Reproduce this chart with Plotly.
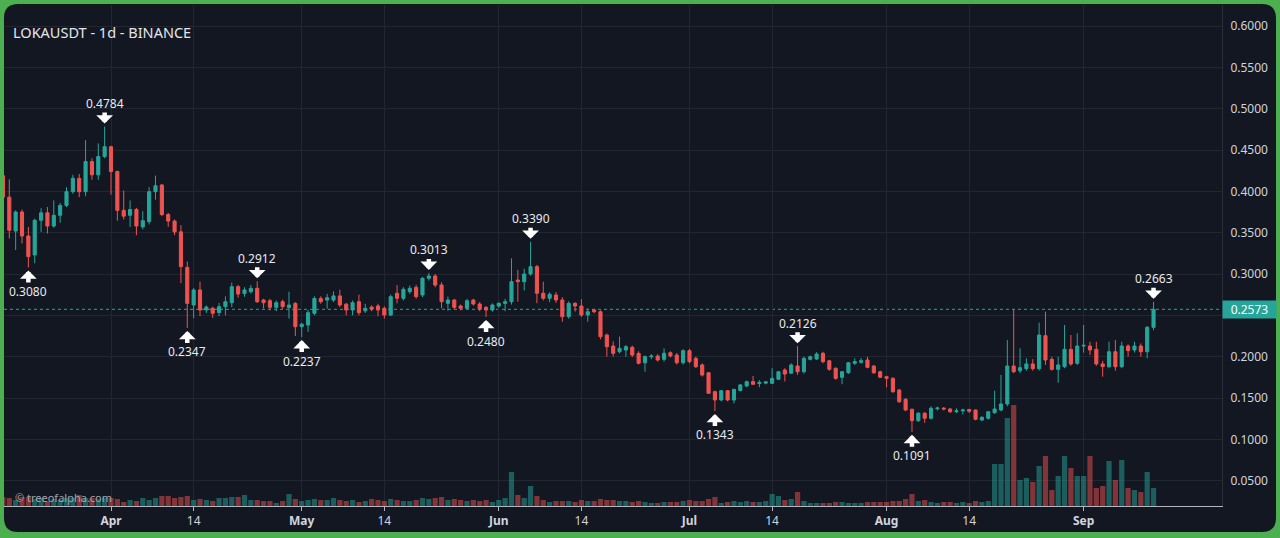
import pandas as pd
import plotly.graph_objects as go

# ---------------- data ----------------
start_date = "2023-03-15"

opens = [0.419,0.393,0.352,0.375,0.346,0.323,0.365,0.374,0.358,0.371,0.383,0.3996,0.4157,0.3996,0.436,0.420,0.442,0.454,0.424,0.377,
         0.371,0.378,0.357,0.3633,0.3996,0.4077,0.372,0.364,0.351,0.308,0.2625,0.2807,0.2565,0.2585,0.2533,0.2605,0.2653,0.2847,0.2765,0.2785,
         0.2827,0.2685,0.2677,0.2597,0.2665,0.2595,0.2645,0.2363,0.2383,0.2525,0.2705,0.2685,0.2685,0.2735,0.2635,0.2565,0.2665,0.2555,0.2600,0.2613,
         0.2585,0.2504,0.2767,0.2706,0.2786,0.2838,0.2746,0.2948,0.2976,0.2867,0.2645,0.2685,0.2613,0.2585,0.2685,0.2637,0.2597,0.2565,0.2613,0.2645,
         0.2665,0.2927,0.2907,0.3000,0.3089,0.2767,0.2706,0.2746,0.2686,0.2484,0.2645,0.2613,0.2504,0.2565,0.2544,0.2262,0.2129,0.2060,0.2081,0.2113,
         0.2040,0.1927,0.2000,0.2008,0.1968,0.2048,0.2020,0.1927,0.2073,0.1980,0.1900,0.1806,0.1577,0.1476,0.1589,0.1476,0.1590,0.1646,0.1698,0.1675,
         0.1680,0.1678,0.1727,0.1839,0.1800,0.1887,0.1818,0.1968,0.1972,0.2041,0.1950,0.1860,0.1750,0.1806,0.1920,0.1932,0.1960,0.1887,0.1818,0.1758,
         0.1738,0.1597,0.1484,0.1364,0.1226,0.1316,0.1255,0.1370,0.1378,0.1367,0.1334,0.1345,0.1360,0.1355,0.1234,0.1255,0.1322,0.1355,0.1428,0.1887,
         0.1830,0.1855,0.1912,0.1855,0.2254,0.1968,0.1847,0.1879,0.2089,0.1920,0.2129,0.2129,0.2089,0.1912,0.1879,0.2060,0.1879,0.2129,0.2081,0.2129,
         0.2060,0.2355]

highs = [0.421,0.4146,0.377,0.378,0.357,0.367,0.3795,0.381,0.389,0.386,0.405,0.420,0.421,0.462,0.440,0.458,0.4784,0.455,0.425,0.401,
         0.389,0.380,0.376,0.405,0.419,0.409,0.374,0.366,0.359,0.315,0.283,0.2907,0.262,0.2605,0.265,0.273,0.2895,0.2867,0.284,0.2867,
         0.2912,0.270,0.270,0.268,0.269,0.2786,0.266,0.241,0.2565,0.273,0.273,0.276,0.279,0.281,0.265,0.268,0.275,0.264,0.262,0.264,
         0.261,0.275,0.2867,0.284,0.286,0.287,0.2965,0.3013,0.300,0.290,0.2727,0.270,0.263,0.270,0.270,0.266,0.261,0.2645,0.266,0.270,
         0.319,0.305,0.3065,0.3390,0.311,0.2907,0.278,0.278,0.272,0.267,0.266,0.2695,0.258,0.258,0.256,0.228,0.2185,0.2242,0.214,0.2135,
         0.2065,0.2015,0.203,0.203,0.210,0.2065,0.2045,0.209,0.2095,0.200,0.192,0.1815,0.159,0.1595,0.1595,0.161,0.167,0.171,0.1767,0.1717,
         0.1705,0.186,0.1825,0.186,0.192,0.2126,0.200,0.2015,0.2055,0.206,0.196,0.187,0.1826,0.1935,0.198,0.1984,0.200,0.190,0.183,0.177,
         0.175,0.161,0.150,0.137,0.133,0.133,0.140,0.1395,0.139,0.138,0.1375,0.137,0.137,0.136,0.128,0.134,0.1589,0.178,0.2202,0.2573,
         0.2101,0.198,0.197,0.2411,0.2544,0.200,0.200,0.2383,0.2262,0.2283,0.2383,0.2181,0.2181,0.195,0.2181,0.2202,0.2181,0.215,0.2181,0.216,
         0.237,0.2663]

lows = [0.390,0.343,0.329,0.337,0.3080,0.313,0.351,0.349,0.356,0.362,0.381,0.397,0.393,0.394,0.414,0.414,0.440,0.396,0.3645,0.366,
        0.357,0.347,0.354,0.360,0.390,0.370,0.357,0.347,0.289,0.2347,0.2464,0.249,0.253,0.247,0.249,0.250,0.260,0.2713,0.2725,0.2765,
        0.265,0.2585,0.256,0.255,0.258,0.246,0.225,0.2237,0.230,0.250,0.264,0.258,0.266,0.260,0.250,0.250,0.250,0.253,0.255,0.249,
        0.246,0.249,0.2645,0.268,0.276,0.270,0.272,0.292,0.284,0.2585,0.2556,0.257,0.256,0.257,0.262,0.255,0.2480,0.2545,0.259,0.255,
        0.263,0.2665,0.280,0.298,0.2646,0.268,0.266,0.265,0.2423,0.246,0.2545,0.248,0.2423,0.2525,0.221,0.200,0.200,0.204,0.200,0.1995,
        0.1905,0.1818,0.197,0.194,0.194,0.199,0.1905,0.1905,0.192,0.1865,0.176,0.155,0.1343,0.146,0.146,0.1435,0.158,0.163,0.166,0.163,
        0.1665,0.167,0.172,0.170,0.179,0.178,0.1795,0.1955,0.196,0.192,0.183,0.172,0.1667,0.179,0.190,0.1915,0.186,0.179,0.174,0.163,
        0.156,0.144,0.134,0.1091,0.121,0.120,0.124,0.135,0.135,0.132,0.132,0.130,0.132,0.123,0.122,0.124,0.131,0.134,0.140,0.180,
        0.180,0.183,0.183,0.183,0.190,0.183,0.1685,0.186,0.189,0.190,0.2048,0.202,0.189,0.1758,0.186,0.183,0.186,0.200,0.205,0.200,
        0.198,0.232]

closes = [0.393,0.353,0.375,0.346,0.321,0.365,0.374,0.358,0.371,0.383,0.3996,0.4157,0.3996,0.436,0.420,0.442,0.454,0.424,0.377,0.370,
          0.378,0.358,0.3645,0.3996,0.4068,0.372,0.364,0.351,0.309,0.2645,0.2807,0.2565,0.2600,0.2525,0.2605,0.2665,0.2847,0.2758,0.2807,0.2827,
          0.2665,0.2653,0.2597,0.2653,0.2605,0.2625,0.2363,0.2393,0.2532,0.2705,0.2665,0.2713,0.2735,0.2625,0.2565,0.2653,0.2532,0.2585,0.2573,0.2565,
          0.2504,0.2726,0.2706,0.2815,0.2827,0.2727,0.2948,0.2976,0.2867,0.2665,0.2685,0.2597,0.2585,0.2677,0.2637,0.2573,0.2565,0.2625,0.2645,0.2665,
          0.2907,0.2907,0.3000,0.3089,0.2767,0.2706,0.2755,0.2686,0.2484,0.2645,0.2613,0.2504,0.2544,0.2544,0.2242,0.2121,0.2040,0.2101,0.2121,0.2020,
          0.1920,0.2000,0.2008,0.1960,0.2041,0.2008,0.1927,0.2073,0.1940,0.1878,0.1778,0.1557,0.1476,0.1589,0.1476,0.1605,0.1658,0.1698,0.1666,0.1690,
          0.1695,0.1738,0.1818,0.1790,0.1900,0.1818,0.1980,0.2000,0.2032,0.1940,0.1847,0.1738,0.1818,0.1927,0.1940,0.1952,0.1871,0.1806,0.1751,0.1738,
          0.1577,0.1455,0.1355,0.1226,0.1316,0.1255,0.1376,0.1378,0.1368,0.1334,0.1345,0.1355,0.1340,0.1242,0.1266,0.1334,0.1367,0.1428,0.1887,0.1818,
          0.1867,0.1912,0.1855,0.2262,0.1960,0.1847,0.1900,0.2089,0.1912,0.2129,0.2137,0.2081,0.1912,0.1880,0.2060,0.1879,0.2129,0.2073,0.2129,0.2060,
          0.2355,0.2573]

# daily volume, thousands of LOKA
volumes = [450,400,300,450,450,350,400,250,350,300,400,400,550,400,400,350,400,400,350,200,
           300,250,400,300,400,500,500,400,450,500,300,350,300,250,400,400,450,450,550,300,
           300,250,250,150,250,600,350,250,300,350,300,300,400,300,250,300,200,250,350,300,
           250,350,300,250,250,300,400,350,400,450,300,350,300,250,300,250,300,200,300,400,
           1700,550,400,1000,500,300,200,250,250,250,200,300,250,250,350,300,300,250,250,200,
           250,200,150,150,200,200,200,250,300,250,250,350,450,150,200,250,200,250,200,200,
           250,600,500,300,350,700,250,150,150,150,150,200,200,150,150,150,200,200,200,200,
           250,250,350,600,250,300,200,150,200,200,150,200,150,250,200,250,2100,2100,4400,5050,
           1300,1400,1200,2000,2500,800,1500,2500,1900,1500,1500,2500,900,1000,2250,1300,2300,900,800,700,
           1700,900]

tick_dates = ["2023-04-01", "2023-04-14", "2023-05-01", "2023-05-14", "2023-06-01", "2023-06-14",
              "2023-07-01", "2023-07-14", "2023-08-01", "2023-08-14", "2023-09-01"]
tick_labels = ["<b>Apr</b>", "14", "<b>May</b>", "14", "<b>Jun</b>", "14",
               "<b>Jul</b>", "14", "<b>Aug</b>", "14", "<b>Sep</b>"]
price_ticks = [0.05, 0.10, 0.15, 0.20, 0.25, 0.30, 0.35, 0.40, 0.45, 0.50, 0.55, 0.60]

high_marks = [16, 40, 67, 83, 125, 181]   # candles with labelled local highs
low_marks = [4, 29, 47, 76, 112, 143]     # candles with labelled local lows

title_text = "LOKAUSDT - 1d - BINANCE"
watermark_text = "© treeofalpha.com"

# ---------------- styling ----------------
GREEN = "#26a69a"
RED = "#ef5350"
VOL_GREEN = "rgba(38,166,154,0.5)"
VOL_RED = "rgba(239,83,80,0.5)"
BG = "#131722"
BORDER = "#4caf50"
GRID = "#222631"
TEXT = "#d1d4dc"
FONT = "Noto Sans"

W, H = 1280, 538
ML, MR, MT, MB = 4, 58, 5, 32
plot_w = W - ML - MR
plot_h = H - MT - MB

dates = pd.date_range(start_date, periods=len(opens), freq="D")
x_start = pd.Timestamp(start_date) + pd.Timedelta(days=0.168)
x_end = pd.Timestamp(start_date) + pd.Timedelta(days=191.77)

vol_colors = [VOL_GREEN if c >= o else VOL_RED for o, c in zip(opens, closes)]
last_price = closes[-1]
# the live-price tag covers the 0.2500 label, as on the original
price_ticktext = ["" if abs(v - last_price) < 0.01 else f"{v:.4f}" for v in price_ticks]

fig = go.Figure()

fig.add_trace(go.Bar(
    x=dates, y=volumes, marker=dict(color=vol_colors, line=dict(width=0)),
    yaxis="y2", hoverinfo="skip", showlegend=False,
))

fig.add_trace(go.Candlestick(
    x=dates, open=opens, high=highs, low=lows, close=closes,
    increasing=dict(line=dict(color=GREEN, width=1), fillcolor=GREEN),
    decreasing=dict(line=dict(color=RED, width=1), fillcolor=RED),
    whiskerwidth=0, hoverinfo="skip", showlegend=False,
))


def px_to_paper_x(px):
    return (px - ML) / plot_w


def px_to_paper_y(py):
    return (H - MB - py) / plot_h


# rounded dark panel inside the green frame
L, R, T, B, rad = 4, 1276, 4, 532, 14
X = px_to_paper_x
Y = px_to_paper_y
path = (f"M {X(L+rad)},{Y(T)} L {X(R-rad)},{Y(T)} Q {X(R)},{Y(T)} {X(R)},{Y(T+rad)} "
        f"L {X(R)},{Y(B-rad)} Q {X(R)},{Y(B)} {X(R-rad)},{Y(B)} "
        f"L {X(L+rad)},{Y(B)} Q {X(L)},{Y(B)} {X(L)},{Y(B-rad)} "
        f"L {X(L)},{Y(T+rad)} Q {X(L)},{Y(T)} {X(L+rad)},{Y(T)} Z")

shapes = [
    dict(type="path", path=path, xref="paper", yref="paper", fillcolor=BG,
         line=dict(width=0), layer="below"),
    dict(type="line", xref="paper", yref="y", x0=0, x1=1, y0=last_price, y1=last_price,
         line=dict(color=GREEN, width=1, dash="dot"), layer="between"),
]

annotations = [
    dict(text=title_text, xref="paper", yref="paper", x=px_to_paper_x(11), y=px_to_paper_y(32),
         xanchor="left", yanchor="middle", showarrow=False,
         font=dict(family=FONT, size=14.5, color="#e4e6eb")),
    dict(text=watermark_text, xref="paper", yref="paper", x=px_to_paper_x(13), y=px_to_paper_y(497),
         xanchor="left", yanchor="middle", showarrow=False,
         font=dict(family=FONT, size=11, color="#a3a6af")),
    dict(text=f"{last_price:.4f}", xref="paper", yref="y", x=1.0, y=last_price,
         xanchor="left", yanchor="middle", showarrow=False, align="center",
         width=49, height=13, borderpad=2, bgcolor=GREEN,
         font=dict(family=FONT, size=12, color="#ffffff")),
]

ARROW = dict(showarrow=True, ax=0, arrowhead=1, arrowwidth=4.5, arrowsize=0.62,
             arrowcolor="#ffffff", standoff=3, borderpad=0,
             font=dict(family=FONT, size=12, color="#e8eaee"))
for k in high_marks:
    annotations.append(dict(x=dates[k], y=highs[k], xref="x", yref="y",
                            text=f"{highs[k]:.4f}", ay=-23, **ARROW))
for k in low_marks:
    annotations.append(dict(x=dates[k], y=lows[k], xref="x", yref="y",
                            text=f"{lows[k]:.4f}", ay=24, **ARROW))

fig.update_layout(
    width=W, height=H,
    margin=dict(l=ML, r=MR, t=MT, b=MB, pad=0),
    paper_bgcolor=BORDER, plot_bgcolor="rgba(0,0,0,0)",
    font=dict(family=FONT, color=TEXT, size=12),
    shapes=shapes, annotations=annotations,
    bargap=0.18, boxgap=0.3,
    xaxis=dict(
        type="date", range=[x_start, x_end], rangeslider=dict(visible=False),
        tickvals=tick_dates, ticktext=tick_labels, ticks="outside", ticklen=4,
        tickcolor="#b2b5be", showline=True, linecolor="#b2b5be", linewidth=1,
        showgrid=True, gridcolor=GRID, gridwidth=1, zeroline=False,
        tickfont=dict(family=FONT, size=12, color=TEXT), fixedrange=True,
    ),
    yaxis=dict(
        side="right", range=[0.6 - (H - MB - 26) / 826.7, 0.6 + (26 - MT) / 826.7],
        tickvals=price_ticks, ticktext=price_ticktext, ticks="", ticklabelstandoff=5,
        showgrid=True, gridcolor=GRID, gridwidth=1, zeroline=False,
        showline=True, linecolor="#2a2e39", linewidth=1,
        tickfont=dict(family=FONT, size=12, color=TEXT), fixedrange=True,
    ),
    yaxis2=dict(overlaying="y", range=[0, plot_h * 50], visible=False, fixedrange=True),
)

fig.write_html(
    "out.html",
    config={"displayModeBar": False, "staticPlot": True},
    post_script="document.body.style.margin='0';document.body.style.overflow='hidden';",
)
